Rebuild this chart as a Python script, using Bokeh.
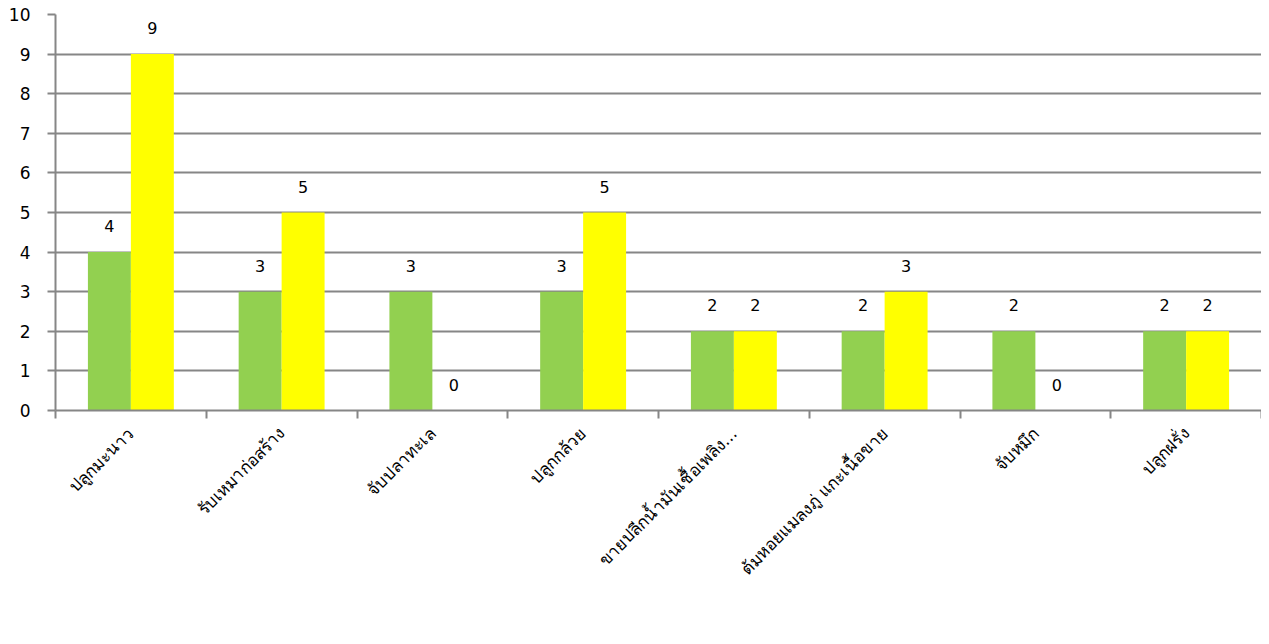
from math import pi
from bokeh.plotting import figure
from bokeh.models import (ColumnDataSource, Range1d, FixedTicker, Legend, LegendItem)
from bokeh.core.properties import value
from bokeh.transform import dodge
from bokeh.embed import file_html
from bokeh.resources import INLINE

categories = ["ปลูกมะนาว", "รับเหมาก่อสร้าง", "จับปลาทะเล", "ปลูกกล้วย",
              "ขายปลีกน้ำมันเชื้อเพลิง...", "ต้มหอยแมลงภู่ แกะเนื้อขาย", "จับหมึก", "ปลูกฝรั่ง"]
establishments = [4, 3, 3, 3, 2, 2, 2, 2]
laid_off = [9, 5, 0, 5, 2, 3, 0, 2]
series_names = ["จำนวนสถานประกอบการ", "จำนวนผู้ถูกเลิกจ้าง"]
y_ticks = list(range(0, 11))

GREEN = "#92D050"
YELLOW = "#FFFF00"
GRID = "#868686"
FONT = "Tahoma, 'DejaVu Sans', sans-serif"

xpos = [i + 0.5 for i in range(len(categories))]
src = ColumnDataSource(dict(x=xpos, a=establishments, b=laid_off,
                            al=[str(v) for v in establishments],
                            bl=[str(v) for v in laid_off]))

p = figure(frame_width=1206, frame_height=396, output_backend="svg", toolbar_location=None,
           x_range=Range1d(0, len(categories)), y_range=Range1d(0, 10),
           min_border_left=55, min_border_right=0, min_border_top=14, min_border_bottom=0)
p.outline_line_color = None

W = 0.285
r1 = p.vbar(x=dodge("x", -W / 2, range=p.x_range), top="a", width=W, source=src,
            fill_color=GREEN, line_color=None)
r2 = p.vbar(x=dodge("x", W / 2, range=p.x_range), top="b", width=W, source=src,
            fill_color=YELLOW, line_color=None)
# empty, transparent renderer used only to shift the centred legend leftwards
r_pad = p.vbar(x=[], top=[], width=W, fill_alpha=0, line_alpha=0)

for col, lab, off in (("a", "al", -W / 2), ("b", "bl", W / 2)):
    p.text(x=dodge("x", off, range=p.x_range), y=col, text=lab, source=src,
           text_align="center", text_baseline="middle", y_offset=-26,
           text_font_size="16px", text_color="black", text_font=value(FONT))

# axes
p.xaxis.ticker = FixedTicker(ticks=xpos, minor_ticks=list(range(len(categories) + 1)))
p.xaxis.major_label_overrides = {x: c for x, c in zip(xpos, categories)}
p.xaxis.major_label_orientation = pi / 4
p.xaxis.major_tick_line_color = None
p.xaxis.minor_tick_out = 8
p.xaxis.minor_tick_in = 0
p.xaxis.minor_tick_line_color = GRID
p.xaxis.minor_tick_line_width = 2
p.xaxis.axis_line_color = GRID
p.xaxis.axis_line_width = 2
p.xaxis.major_label_text_font_size = "17px"
p.xaxis.major_label_text_font = FONT
p.xaxis.major_label_text_color = "black"
p.xaxis.major_label_standoff = 12

p.yaxis.ticker = FixedTicker(ticks=y_ticks)
p.yaxis.minor_tick_line_color = None
p.yaxis.major_tick_out = 8
p.yaxis.major_tick_in = 0
p.yaxis.major_tick_line_color = GRID
p.yaxis.major_tick_line_width = 2
p.yaxis.axis_line_color = GRID
p.yaxis.axis_line_width = 2
p.yaxis.major_label_text_font_size = "17px"
p.yaxis.major_label_text_font = FONT
p.yaxis.major_label_text_color = "black"
p.yaxis.major_label_standoff = 17

p.xgrid.grid_line_color = None
p.ygrid.grid_line_color = GRID
p.ygrid.grid_line_width = 2

legend = Legend(items=[LegendItem(label=series_names[0], renderers=[r1]),
                       LegendItem(label=series_names[1], renderers=[r2]),
                       LegendItem(label=" ", renderers=[r_pad])],
                orientation="horizontal", location="top_center",
                glyph_width=18, glyph_height=18, label_standoff=4, spacing=129,
                label_width=38,
                padding=0, margin=0, border_line_color=None, background_fill_alpha=0,
                label_text_font_size="18px", label_text_font=FONT)
p.add_layout(legend, "below")

open("out.html", "w").write(file_html(p, INLINE))
